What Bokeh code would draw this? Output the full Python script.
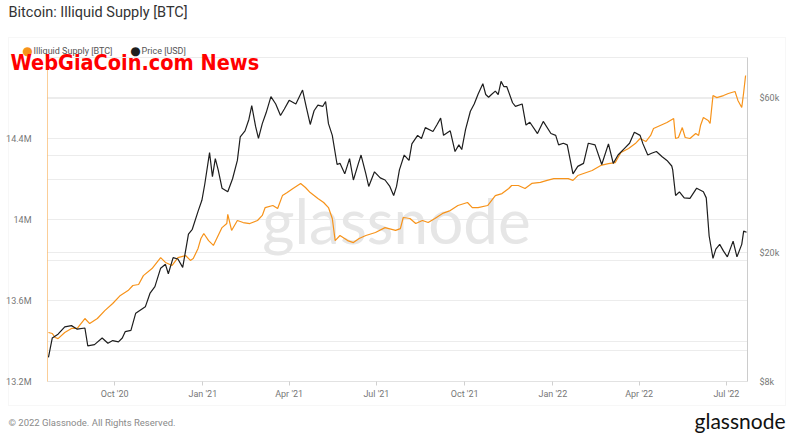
import math
import pandas as pd
from bokeh.plotting import figure
from bokeh.models import (Range1d, LogScale, LogAxis, FixedTicker, CustomJSTickFormatter,
                          DatetimeTickFormatter, Grid, Label, BoxAnnotation)
from bokeh.embed import file_html
from bokeh.resources import INLINE

# ---------------- data ----------------
price_dates = [
    "2020-07-24", "2020-07-28", "2020-08-03", "2020-08-10", "2020-08-17", "2020-08-23", "2020-08-31",
    "2020-09-03", "2020-09-10", "2020-09-18", "2020-09-24", "2020-09-29", "2020-10-05", "2020-10-09",
    "2020-10-12", "2020-10-18", "2020-10-23", "2020-10-28", "2020-11-02", "2020-11-07", "2020-11-12",
    "2020-11-18", "2020-11-23", "2020-11-26", "2020-12-01", "2020-12-06", "2020-12-11", "2020-12-17",
    "2020-12-21", "2020-12-27", "2020-12-31", "2021-01-03", "2021-01-08", "2021-01-11", "2021-01-14",
    "2021-01-17", "2021-01-21", "2021-01-27", "2021-02-01", "2021-02-06", "2021-02-09", "2021-02-14",
    "2021-02-18", "2021-02-21", "2021-02-25", "2021-02-28", "2021-03-04", "2021-03-08", "2021-03-13",
    "2021-03-18", "2021-03-23", "2021-03-27", "2021-04-01", "2021-04-08", "2021-04-15", "2021-04-19",
    "2021-04-23", "2021-04-27", "2021-05-01", "2021-05-06", "2021-05-09", "2021-05-12", "2021-05-16",
    "2021-05-21", "2021-05-24", "2021-05-29", "2021-06-03", "2021-06-07", "2021-06-12", "2021-06-15",
    "2021-06-20", "2021-06-23", "2021-06-29", "2021-07-05", "2021-07-10", "2021-07-15", "2021-07-19",
    "2021-07-22", "2021-07-25", "2021-07-30", "2021-08-04", "2021-08-07", "2021-08-13", "2021-08-17",
    "2021-08-21", "2021-08-29", "2021-09-02", "2021-09-06", "2021-09-09", "2021-09-16", "2021-09-21",
    "2021-09-25", "2021-09-28", "2021-10-02", "2021-10-07", "2021-10-11", "2021-10-15", "2021-10-20",
    "2021-10-23", "2021-10-26", "2021-10-29", "2021-11-02", "2021-11-05", "2021-11-08", "2021-11-11",
    "2021-11-14", "2021-11-20", "2021-11-23", "2021-11-30", "2021-12-04", "2021-12-08", "2021-12-16",
    "2021-12-22", "2021-12-30", "2022-01-04", "2022-01-07", "2022-01-12", "2022-01-16", "2022-01-22",
    "2022-01-27", "2022-02-02", "2022-02-07", "2022-02-14", "2022-02-21", "2022-02-28", "2022-03-05",
    "2022-03-10", "2022-03-17", "2022-03-22", "2022-03-27", "2022-04-02", "2022-04-05", "2022-04-10",
    "2022-04-14", "2022-04-19", "2022-04-25", "2022-04-30", "2022-05-05", "2022-05-06", "2022-05-09",
    "2022-05-13", "2022-05-18", "2022-05-24", "2022-05-31", "2022-06-07", "2022-06-10", "2022-06-13",
    "2022-06-17", "2022-06-20", "2022-06-24", "2022-06-28", "2022-07-02", "2022-07-08", "2022-07-12",
    "2022-07-17", "2022-07-19", "2022-07-22",
]
price_usd_k = [
    9.5, 10.9, 11.2, 11.8, 11.9, 11.6, 11.7,
    10.3, 10.4, 10.9, 10.5, 10.7, 10.6, 10.9,
    11.4, 11.5, 13.0, 13.3, 13.6, 15.0, 15.7,
    17.9, 18.4, 17.2, 19.3, 19.1, 18.0, 22.8,
    23.6, 26.8, 29.0, 32.5, 40.7, 34.3, 39.0,
    36.0, 31.6, 30.8, 33.8, 38.5, 45.5, 47.5,
    51.5, 56.8, 49.0, 45.0, 50.0, 54.0, 60.6,
    57.5, 53.0, 55.5, 59.0, 57.5, 63.5, 56.0,
    49.7, 54.8, 57.0, 56.5, 58.5, 50.0, 46.0,
    37.4, 37.7, 35.0, 39.0, 33.5, 37.5, 40.0,
    35.0, 32.0, 35.5, 34.0, 33.5, 32.0, 30.0,
    32.0, 36.0, 40.0, 38.5, 43.3, 46.0, 45.0,
    48.6, 47.3, 49.5, 52.0, 46.0, 47.5, 41.0,
    43.0, 41.6, 48.0, 54.6, 57.5, 61.6, 66.4,
    61.5, 60.3, 61.5, 63.0, 61.5, 67.5, 65.0,
    65.0, 58.0, 56.5, 57.5, 49.5, 50.5, 46.6,
    50.8, 46.6, 46.0, 43.0, 43.5, 43.0, 35.0,
    36.9, 37.7, 43.5, 43.0, 37.4, 43.3, 37.7,
    40.0, 42.0, 43.5, 47.0, 46.0, 43.3, 40.0,
    40.5, 41.0, 39.5, 38.5, 37.0, 36.0, 30.0,
    30.8, 29.5, 29.4, 31.6, 30.8, 29.5, 22.5,
    19.2, 20.5, 21.2, 20.2, 19.4, 21.7, 19.4,
    21.2, 23.3, 23.1,
]

supply_dates = [
    "2020-07-24", "2020-07-28", "2020-07-31", "2020-08-03", "2020-08-10", "2020-08-17", "2020-08-23",
    "2020-08-31", "2020-09-05", "2020-09-13", "2020-09-21", "2020-09-29", "2020-10-07", "2020-10-15",
    "2020-10-20", "2020-10-26", "2020-10-31", "2020-11-09", "2020-11-18", "2020-11-23", "2020-11-30",
    "2020-12-06", "2020-12-14", "2020-12-19", "2020-12-22", "2020-12-27", "2020-12-30", "2021-01-02",
    "2021-01-07", "2021-01-12", "2021-01-16", "2021-01-21", "2021-01-26", "2021-01-27", "2021-01-31",
    "2021-02-06", "2021-02-12", "2021-02-19", "2021-02-27", "2021-03-04", "2021-03-07", "2021-03-15",
    "2021-03-20", "2021-03-25", "2021-03-30", "2021-04-05", "2021-04-13", "2021-04-18", "2021-04-23",
    "2021-05-01", "2021-05-07", "2021-05-12", "2021-05-16", "2021-05-19", "2021-05-24", "2021-06-01",
    "2021-06-07", "2021-06-13", "2021-06-20", "2021-06-30", "2021-07-10", "2021-07-21", "2021-07-26",
    "2021-07-29", "2021-08-05", "2021-08-11", "2021-08-18", "2021-08-24", "2021-08-31", "2021-09-08",
    "2021-09-16", "2021-09-24", "2021-10-04", "2021-10-09", "2021-10-15", "2021-10-25", "2021-11-02",
    "2021-11-09", "2021-11-16", "2021-11-19", "2021-11-26", "2021-12-03", "2021-12-10", "2021-12-19",
    "2021-12-26", "2022-01-02", "2022-01-09", "2022-01-17", "2022-01-22", "2022-01-27", "2022-02-02",
    "2022-02-11", "2022-02-20", "2022-02-28", "2022-03-07", "2022-03-13", "2022-03-21", "2022-03-28",
    "2022-04-02", "2022-04-08", "2022-04-13", "2022-04-16", "2022-04-23", "2022-04-30", "2022-05-07",
    "2022-05-09", "2022-05-12", "2022-05-16", "2022-05-19", "2022-05-24", "2022-05-30", "2022-06-02",
    "2022-06-04", "2022-06-07", "2022-06-12", "2022-06-14", "2022-06-17", "2022-06-21", "2022-06-28",
    "2022-07-03", "2022-07-10", "2022-07-13", "2022-07-17", "2022-07-19", "2022-07-21",
]
illiquid_supply_m = [
    13.442, 13.437, 13.417, 13.412, 13.442, 13.462, 13.462,
    13.511, 13.486, 13.511, 13.551, 13.585, 13.625, 13.649,
    13.674, 13.679, 13.723, 13.758, 13.812, 13.788, 13.773,
    13.812, 13.822, 13.798, 13.807, 13.857, 13.906, 13.931,
    13.896, 13.872, 13.911, 13.960, 13.980, 14.025, 13.946,
    13.995, 13.985, 13.980, 13.995, 14.020, 14.059, 14.069,
    14.054, 14.118, 14.133, 14.153, 14.178, 14.158, 14.133,
    14.104, 14.084, 14.059, 14.005, 13.896, 13.921, 13.896,
    13.886, 13.906, 13.921, 13.936, 13.960, 13.946, 13.955,
    14.010, 14.005, 13.980, 13.995, 13.985, 14.005, 14.030,
    14.044, 14.069, 14.084, 14.059, 14.059, 14.069, 14.118,
    14.128, 14.153, 14.168, 14.168, 14.153, 14.178, 14.183,
    14.193, 14.202, 14.202, 14.202, 14.193, 14.217, 14.227,
    14.242, 14.267, 14.276, 14.281, 14.331, 14.351, 14.375,
    14.400, 14.385, 14.415, 14.449, 14.464, 14.479, 14.499,
    14.400, 14.405, 14.454, 14.405, 14.400, 14.425, 14.415,
    14.464, 14.504, 14.489, 14.474, 14.612, 14.602, 14.612,
    14.622, 14.632, 14.588, 14.553, 14.627, 14.711,
]

supply_ticks = [13.2, 13.6, 14.0, 14.4]
supply_grid = [13.4, 13.6, 13.8, 14.0, 14.2, 14.4, 14.6, 14.8]
price_ticks = [8, 20, 60]
price_grid = [10, 20, 40, 60]
date_ticks = ["2020-10-01", "2021-01-01", "2021-04-01", "2021-07-01",
              "2021-10-01", "2022-01-01", "2022-04-01", "2022-07-01"]
date_start, date_end = "2020-07-23", "2022-07-23"
supply_min, supply_max = 13.2, 14.8
price_min, price_max = 8, 80

ORANGE = "#f7931a"
BLACK = "#1e1e1e"
FONT = "Roboto"

# ---------------- layout geometry (pixels) ----------------
W, H = 793, 442
L, R, T, B = 47, 747, 57, 381   # plotting area inside the canvas

t0, t1 = pd.Timestamp(date_start), pd.Timestamp(date_end)
span = t1 - t0
x_range = Range1d(t0 - span * (L / (R - L)), t1 + span * ((W - R) / (R - L)))
per = (supply_max - supply_min) / (B - T)
y_range = Range1d(supply_min - (H - B) * per, supply_max + T * per)
l0, l1 = math.log10(price_min), math.log10(price_max)
lper = (l1 - l0) / (B - T)
price_range = Range1d(10 ** (l0 - (H - B) * lper), 10 ** (l1 + T * lper))
t0_ms, t1_ms = t0.value / 1e6, t1.value / 1e6

p = figure(width=W, height=H, x_axis_type="datetime", output_backend="svg",
           toolbar_location=None, min_border=0,
           min_border_left=0, min_border_right=0, min_border_top=0, min_border_bottom=0,
           x_range=x_range, y_range=y_range)
p.extra_y_ranges = {"price": price_range}
p.extra_y_scales = {"price": LogScale()}
p.background_fill_color = "white"
p.border_fill_color = "white"
p.outline_line_color = None

# left axis (illiquid supply)
la = p.yaxis[0]
la.fixed_location = t0_ms
la.bounds = (supply_min, supply_max)
la.ticker = FixedTicker(ticks=supply_ticks)
la.formatter = CustomJSTickFormatter(code="return tick.toFixed(1).replace(/\\.0$/, '') + 'M';")
la.axis_line_color = ORANGE
la.axis_line_alpha = 0.45
la.major_tick_line_color = None
la.minor_tick_line_color = None
la.major_label_text_color = "#777777"
la.major_label_text_font = FONT
la.major_label_text_font_size = "9px"
la.major_label_standoff = 10

# right axis (log price)
ra = LogAxis(y_range_name="price", ticker=FixedTicker(ticks=price_ticks),
             formatter=CustomJSTickFormatter(code="return '$' + tick + 'k';"),
             fixed_location=t1_ms, bounds=(price_min, price_max))
ra.axis_line_color = "#cccccc"
ra.major_tick_line_color = None
ra.minor_tick_line_color = None
ra.major_label_text_color = "#777777"
ra.major_label_text_font = FONT
ra.major_label_text_font_size = "9px"
ra.major_label_standoff = 6
p.add_layout(ra, "right")

# x axis
xa = p.xaxis[0]
xa.fixed_location = supply_min
xa.bounds = (t0_ms, t1_ms)
xa.ticker = FixedTicker(ticks=[pd.Timestamp(d).value / 1e6 for d in date_ticks])
fmt = "%b '%y"
xa.formatter = DatetimeTickFormatter(milliseconds=fmt, seconds=fmt, minsec=fmt, minutes=fmt,
                                     hourmin=fmt, hours=fmt, days=fmt, months=fmt, years=fmt)
xa.axis_line_color = "#e2e2e2"
xa.major_tick_line_color = "#d0d0d0"
xa.major_tick_in = 0
xa.major_tick_out = 4
xa.minor_tick_line_color = None
xa.major_label_text_color = "#777777"
xa.major_label_text_font = FONT
xa.major_label_text_font_size = "9px"
xa.major_label_standoff = 3

# grids
p.xgrid.visible = False
p.ygrid.ticker = FixedTicker(ticks=supply_grid)
p.ygrid.grid_line_color = "#ececec"
p.ygrid.cross_bounds = (t0_ms, t1_ms)
g2 = Grid(dimension=1, y_range_name="price", ticker=FixedTicker(ticks=price_grid),
          grid_line_color="#ececec", cross_bounds=(t0_ms, t1_ms), bounds=(price_min, price_max))
p.add_layout(g2)

# outer panel box
p.add_layout(BoxAnnotation(left=8, right=785, bottom=H - 405, top=H - 37,
                           left_units="screen", right_units="screen",
                           bottom_units="screen", top_units="screen",
                           fill_alpha=0, line_color="#e4e4e4", line_width=1, level="underlay"))

# watermark
p.add_layout(Label(x=396, y=H - 219, x_units="screen", y_units="screen", text="glassnode",
                   text_font="Lato", text_font_size="62px", text_color="#e6e6e6",
                   text_align="center", text_baseline="middle", level="underlay"))

# lines
p.line(pd.to_datetime(supply_dates), illiquid_supply_m, line_color=ORANGE, line_width=1.2)
p.line(pd.to_datetime(price_dates), price_usd_k, y_range_name="price",
       line_color=BLACK, line_width=1.2)

# title
p.add_layout(Label(x=8, y=H - 12, x_units="screen", y_units="screen",
                   text="Bitcoin: Illiquid Supply [BTC]", text_font=FONT, text_font_size="14.5px",
                   text_color="#333333", text_baseline="middle", text_align="left"))

# legend
def legend_entry(x, color, text):
    p.add_layout(Label(x=x, y=H - 50, x_units="screen", y_units="screen", text="●",
                       text_color=color, text_font="DejaVu Sans", text_font_size="12px",
                       text_align="center", text_baseline="middle"))
    p.add_layout(Label(x=x + 6, y=H - 50, x_units="screen", y_units="screen", text=text,
                       text_color="#555555", text_font=FONT, text_font_size="9px",
                       text_baseline="middle", text_align="left"))

legend_entry(27, ORANGE, "Illiquid Supply [BTC]")
legend_entry(135, BLACK, "Price [USD]")

# overlay red text
p.add_layout(Label(x=10, y=H - 62, x_units="screen", y_units="screen", text="WebGiaCoin.com News",
                   text_color="#ff0000",
                   text_font="'Liberation Sans Narrow', 'DejaVu Sans Condensed', 'Liberation Sans', sans-serif",
                   text_font_style="bold",
                   text_font_size="21.5px", text_baseline="middle", text_align="left"))

# footer
p.add_layout(Label(x=8, y=H - 422, x_units="screen", y_units="screen",
                   text="© 2022 Glassnode. All Rights Reserved.", text_font=FONT,
                   text_font_size="9.5px", text_color="#8a8a8a", text_baseline="middle"))
p.add_layout(Label(x=785, y=H - 420, x_units="screen", y_units="screen", text="glassnode",
                   text_font="Lato", text_font_size="21px", text_color="#111111",
                   text_baseline="middle", text_align="right"))

open("out.html", "w").write(file_html(p, INLINE))
